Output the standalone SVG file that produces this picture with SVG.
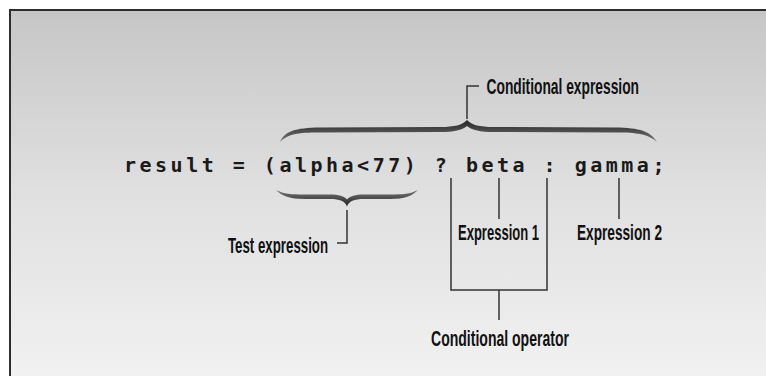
<svg xmlns="http://www.w3.org/2000/svg" width="766" height="376" viewBox="0 0 766 376">
  <defs>
    <linearGradient id="bg" x1="0" y1="10" x2="0" y2="376" gradientUnits="userSpaceOnUse">
      <stop offset="0" stop-color="#c6c6c6"/>
      <stop offset="0.5" stop-color="#e0e0e0"/>
      <stop offset="1" stop-color="#f1f1f1"/>
    </linearGradient>
    <linearGradient id="braceTop" x1="0" y1="0" x2="0" y2="1">
      <stop offset="0" stop-color="#222222"/>
      <stop offset="1" stop-color="#777777"/>
    </linearGradient>
    <linearGradient id="braceBot" x1="0" y1="0" x2="0" y2="1">
      <stop offset="0" stop-color="#777777"/>
      <stop offset="1" stop-color="#222222"/>
    </linearGradient>
  </defs>
  <style>
    .code { font-family: "DejaVu Sans Mono", "Liberation Mono", monospace; font-size: 20px; font-weight: bold; fill: #1a1a1a; letter-spacing: 3.5px; }
    .lbl { font-family: "Liberation Sans Narrow", "Liberation Sans", Arial, sans-serif; font-size: 22px; font-weight: bold; fill: #111111; }
    .conn { fill: none; stroke: #333333; stroke-width: 1.5; }
  </style>
  <rect x="0" y="0" width="766" height="376" fill="#ffffff"/>
  <rect x="10" y="10" width="800" height="400" fill="url(#bg)" stroke="#2e2e2e" stroke-width="2"/>

  <g id="code">
    <text class="code" x="124" y="172">result = (alpha&lt;77) ? beta : gamma;</text>
  </g>

  <g id="brace-conditional">
    <path fill="url(#braceTop)" d="M280,142 C285,131 295,128 320,127.5 L440,127 C455,127 462,125 467,120 C472,125 479,127 494,127 L615,127.5 C640,128 650,131 657,142 C648,134 638,132.5 615,132.5 L494,132 C480,132 472,130 467,126 C462,130 454,132 440,132 L320,132.5 C297,132.5 288,134 280,142 Z"/>
  </g>
  <g id="brace-test">
    <path fill="url(#braceBot)" d="M276,190 C282,196 290,199 305,199 L330,199 C340,199 345,201 347,206.5 C349,201 354,199 364,199 L390,199 C405,199 412,196 418,190 C410,194 403,194.5 390,194.5 L364,194.5 C355,194.5 350,196 347,199.5 C344,196 339,194.5 330,194.5 L305,194.5 C291,194.5 284,194 276,190 Z"/>
  </g>

  <g id="connectors">
    <polyline class="conn" points="467,119 467,86 479,86"/>
    <polyline class="conn" points="347,210 347,243 337,243"/>
    <polyline class="conn" points="451,178 451,290 547,290 547,178"/>
    <line class="conn" x1="499" y1="178" x2="499" y2="219"/>
    <line class="conn" x1="619" y1="178" x2="619" y2="219"/>
    <line class="conn" x1="499" y1="290" x2="499" y2="320"/>
  </g>

  <g id="label-conditional-expression">
    <text class="lbl" transform="translate(486.5,94) scale(0.7,1)" x="0" y="0" textLength="217.9" lengthAdjust="spacingAndGlyphs">Conditional expression</text>
  </g>
  <g id="label-test-expression">
    <text class="lbl" transform="translate(228,252.5) scale(0.7,1)" x="0" y="0" textLength="142.9" lengthAdjust="spacingAndGlyphs">Test expression</text>
  </g>
  <g id="label-expression-1">
    <text class="lbl" transform="translate(458,240) scale(0.7,1)" x="0" y="0" textLength="115.7" lengthAdjust="spacingAndGlyphs">Expression 1</text>
  </g>
  <g id="label-expression-2">
    <text class="lbl" transform="translate(577,240) scale(0.7,1)" x="0" y="0" textLength="121.4" lengthAdjust="spacingAndGlyphs">Expression 2</text>
  </g>
  <g id="label-conditional-operator">
    <text class="lbl" transform="translate(431,346) scale(0.7,1)" x="0" y="0" textLength="197.1" lengthAdjust="spacingAndGlyphs">Conditional operator</text>
  </g>
</svg>
